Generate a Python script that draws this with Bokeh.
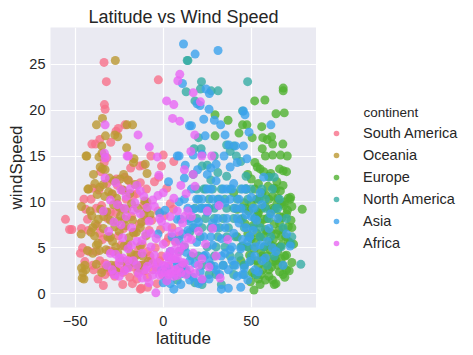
from bokeh.plotting import figure
from bokeh.layouts import row
from bokeh.models import Range1d, FixedTicker, Legend, LegendItem, Label
from bokeh.embed import file_html
from bokeh.resources import INLINE

continents = ["South America", "Oceania", "Europe", "North America", "Asia", "Africa"]
colors = ["#f77189", "#bb9832", "#50b131", "#36ada4", "#3ba3ec", "#e866f4"]
legend_title = "continent"

sa_lat = [-33.6, -32.3, -33.4, -33.0, -55.5, -53.2, -51.9, -2.8, -26.8, -25.5, -38.5, -29.8, -13.4, 0.0, -1.0, 5.8, 6.0, -21.7, -21.9, -33.5, -32.0, -35.5, -36.0, -40.5,
          -46.4, -45.8, -44.0, -43.0, -42.5, -41.0, -40.0, -39.5, -38.0, -37.5, -36.5, -35.0, -34.5, -33.0, -32.0, -31.5, -30.5, -30.0, -29.0, -28.5, -27.5, -27.0, -26.0, -25.5, -24.5, -24.0,
          -23.0, -22.5, -21.5, -21.0, -20.5, -19.5, -19.0, -18.0, -17.5, -16.5, -16.0, -15.0, -14.5, -13.5, -12.5, -12.0, -11.0, -10.5, -9.5, -9.0, -8.0, -7.5, -6.5, -6.0, -5.0, -4.5, -3.5,
          -3.0, -2.0, -1.5, -0.5, 0.5, 1.5, 2.0, 3.0, 4.0, 5.0, 7.0, 8.0, 9.0, -44.5, -47.0, -37.0, -34.0, -28.0, -26.5, -18.5, -11.5, -7.0, -2.5, -14.0, -24.0, -31.0, -36.0, -8.9, -13.0,
          -35.0, -33.0, -31.0, -29.0, -27.0, -25.0, -23.0, -21.0, -19.0, -17.0, -15.0, -13.0, -11.0, -9.0, -7.0, -4.0, -1.0, 1.0, 3.0, -38.0, -40.0, -45.0, -42.0, -36.0, -30.0,
          -26.0, -23.0, -17.0, -13.0, -10.0]
sa_wind = [25.2, 23.1, 20.6, 20.1, 8.1, 7.0, 7.0, 23.3, 17.7, 18.0, 16.3, 16.5, 13.9, 15.1, 13.9, 9.2, 14.4, 18.4, 12.7, 14.3, 14.8, 13.3, 16.8, 16.3,
           7.1, 5.0, 9.2, 8.1, 6.9, 10.3, 3.1, 2.6, 4.6, 7.4, 11.3, 9.6, 5.9, 3.3, 12.0, 8.2, 6.1, 2.4, 10.8, 4.6, 1.9, 8.8, 11.8, 6.3, 3.6, 9.3,
           1.0, 7.1, 2.7, 10.3, 5.1, 12.3, 3.8, 8.4, 1.1, 6.6, 4.2, 10.9, 2.3, 7.6, 0.6, 5.4, 9.7, 3.2, 11.4, 1.8, 6.9, 4.1, 8.0, 2.6, 12.2, 5.0, 1.1,
           9.0, 3.6, 7.0, 2.1, 8.5, 5.6, 11.5, 3.0, 9.8, 7.2, 5.7, 2.4, 6.3, 3.5, 4.4, 1.6, 0.9, 2.8, 12.5, 13.7, 14.0, 15.0, 12.7, 4.8, 5.3, 4.7, 6.6, 0.7, 0.5,
           2.6, 2.1, 2.9, 2.4, 3.1, 2.6, 2.3, 3.4, 1.8, 2.9, 1.6, 3.1, 2.5, 4.6, 3.6, 2.9, 4.1, 2.6, 6.1, 9.3, 11.5, 10.3, 4.6, 3.6, 8.9,
           9.8, 11.3, 10.7, 12.1, 8.0]

oc_lat = [-27.2, -34.5, -37.9, -27.5, -25.8, -20.6, -17.4, -43.8, -43.4, -34.9, -34.8, -16.6, -16.9, -20.8, -10.2, -9.2, -39.6, -42.8, -42.4, -46.4, -46.6, -46.4, -46.0, -45.6, -9.4, -9.2,
          -35.8, -36.5, -32.8, -34.5, -33.0, -28.0, -24.5,
          -44.5, -41.5, -40.5, -39.0, -38.5, -37.5, -37.0, -36.2, -35.5, -34.0, -33.2, -32.5, -31.5, -31.0, -30.0, -29.5, -28.8, -28.2, -27.5, -27.0, -26.5, -25.8, -25.0, -24.2, -23.5, -23.0,
          -22.3, -21.5, -20.8, -20.2, -19.5, -19.0, -18.3, -17.5, -16.8, -16.0, -15.3, -14.5, -13.8, -13.0, -12.3, -11.5, -10.5, -9.8, -8.5, -7.5, -35.0, -32.0, -41.0, -43.0, -38.8, -30.5,
          -22.5, -20.0, -26.0, -17.0, -33.8, -36.8,
          -45.0, -44.0, -40.0, -38.0, -36.0, -34.0, -32.0, -29.0, -27.0, -25.0, -22.0, -20.0, -18.0, -15.0, -13.0, -12.0, -11.0, -40.0, -38.0, -30.0]
oc_wind = [25.4, 19.1, 18.4, 17.3, 17.1, 18.4, 18.4, 15.0, 15.0, 16.1, 15.3, 14.7, 14.3, 15.9, 14.1, 13.1, 13.0, 11.4, 11.4, 9.5, 6.5, 2.8, 1.7, 2.3, 9.2, 10.0,
           13.8, 14.9, 17.2, 13.6, 13.5, 12.3, 12.5,
           3.1, 9.0, 8.5, 6.3, 7.6, 10.8, 5.5, 4.7, 9.2, 7.1, 10.6, 4.8, 6.2, 11.1, 8.0, 3.1, 5.7, 9.7, 7.3, 2.5, 10.4, 4.5, 6.8, 8.5, 3.6, 11.3,
           5.2, 7.4, 9.2, 2.9, 6.1, 10.9, 4.4, 8.0, 3.4, 11.9, 6.7, 9.3, 2.8, 5.2, 7.8, 4.1, 10.1, 6.3, 3.5, 8.6, 2.3, 2.9, 6.7, 4.7, 12.0, 12.6,
           13.0, 12.4, 7.9, 6.7, 8.4, 8.1,
           1.6, 2.6, 4.4, 3.2, 11.6, 11.9, 8.9, 10.9, 5.1, 9.4, 8.1, 5.3, 9.8, 4.2, 7.2, 3.1, 8.6, 7.2, 5.3, 6.2]

eu_lat = [68.1, 68.1, 51.9, 57.7, 68.7, 64.0, 29.4, 36.8, 29.4, 55.9, 61.5, 62.1, 67.9, 70.4, 66.6, 62.1, 56.2, 53.4, 55.0, 68.1, 78.9, 72.3, 51.5, 47.5, 45.0, 50.5, 59.0, 43.0, 56.5, 58.0, 70.0, 52.0, 60.0, 64.5,
          40.0, 42.0, 44.0, 45.0, 46.0, 47.0, 48.0, 49.0, 50.0, 50.5, 51.0, 52.0, 52.5, 53.0, 53.5, 54.0, 54.5, 55.0, 55.5, 56.0, 56.5, 57.0, 57.5, 58.0, 58.5, 59.0, 59.5, 60.0, 60.5, 61.0,
          61.5, 62.0, 62.5, 63.0, 63.5, 64.0, 64.5, 65.0, 65.5, 66.0, 66.5, 67.0, 67.5, 68.0, 68.5, 69.0, 69.5, 70.0, 70.5, 71.0, 71.5, 72.0, 72.5, 73.0, 74.0, 46.5, 48.5, 49.5, 51.5, 53.0,
          54.0, 55.5, 57.0, 58.0, 60.0, 61.0, 62.5, 63.0, 64.0, 65.0, 66.0, 67.0, 68.0, 69.0, 70.0, 71.0, 73.0, 66.0, 61.0, 57.0, 63.0, 54.0, 48.0, 50.0, 46.0,
          50.0, 52.0, 55.0, 57.0, 59.0, 61.0, 63.0, 65.0, 67.0, 69.0, 71.0, 73.0, 60.0, 62.0, 64.0, 66.0, 68.0, 58.0, 56.0, 54.0, 52.0, 50.0, 48.0, 44.0, 42.0, 70.0, 66.0, 62.0,
          58.0, 56.0, 53.0, 47.0, 64.0, 68.0, 72.0, 60.0, 55.0, 59.0, 63.0, 67.0]
eu_wind = [22.4, 22.1, 21.0, 21.1, 19.7, 19.6, 19.5, 18.9, 17.2, 18.2, 17.1, 16.3, 16.3, 15.0, 15.1, 15.1, 15.8, 13.8, 13.6, 13.4, 9.2, 10.5, 0.4, 18.4, 18.4, 17.0, 16.8, 17.5, 17.0, 15.0, 13.3, 14.3, 12.8, 12.2,
           11.0, 9.2, 8.1, 5.2, 3.1, 11.4, 6.5, 4.2, 9.8, 2.3, 7.4, 11.4, 5.6, 3.6, 8.6, 1.6, 10.3, 6.2, 4.5, 11.0, 2.6, 8.1, 5.1, 9.5, 3.3, 6.8, 11.7, 1.9, 4.8, 8.9,
           2.9, 10.6, 5.9, 7.6, 3.9, 1.1, 9.8, 4.6, 6.9, 2.4, 11.2, 5.3, 8.3, 3.1, 9.6, 1.8, 6.2, 4.2, 9.1, 7.3, 2.5, 5.5, 8.0, 3.4, 5.4, 7.6, 9.0, 1.3, 4.9, 6.6,
           8.8, 2.1, 3.9, 7.0, 10.3, 5.3, 3.5, 9.2, 6.5, 10.4, 8.4, 3.8, 7.0, 10.0, 2.6, 10.4, 9.5, 13.6, 13.1, 13.3, 11.5, 12.0, 13.0, 12.5, 9.9,
           6.0, 8.2, 7.7, 6.2, 4.1, 6.7, 5.1, 3.1, 6.2, 4.1, 5.7, 7.2, 2.6, 1.5, 3.6, 5.1, 2.1, 1.5, 4.1, 3.1, 2.1, 3.6, 5.1, 3.6, 6.2, 8.7, 7.7, 9.3,
           10.8, 9.3, 10.3, 9.3, 11.4, 11.8, 10.3, 5.7, 1.0, 8.2, 1.0, 9.8]

na_lat = [13.6, 14.0, 13.0, 21.7, 47.9, 21.1, 27.2, 31.1, 18.0, 17.5, 20.0, 21.5, 22.0, 29.0, 25.0, 36.0, 38.0, 41.5, 44.0, 47.0, 78.1, 72.5, 63.0, 60.0, 45.0, 40.0,
          19.0, 23.0, 28.0, 33.0, 38.0, 44.0, 50.0, 56.0, 62.0, 20.0, 26.0, 31.0, 42.0, 48.0, 54.0, 66.0, 18.0, 22.0, 29.0, 36.0, 45.0, 58.0, 64.0, 15.0, 24.0, 34.0, 40.0, 52.0, 60.0,
          17.0, 27.0, 37.0, 46.0, 55.0, 68.0, 21.0, 31.0, 41.0, 49.0, 61.0, 12.0, 25.0, 35.0, 44.0, 57.0, 67.0, 16.0, 29.0, 38.0, 50.0, 63.0, 11.0, 22.0, 34.0, 46.0, 59.0, 14.0, 26.0,
          40.0, 53.0, 18.0, 33.0, 8.0, 17.0, 31.0, 27.0, 36.0,
          24.0, 47.0, 35.0, 58.0, 26.0, 40.0, 52.0, 19.0, 29.0, 45.0, 22.0, 32.0, 51.0, 36.0, 55.0, 30.0, 48.0, 20.0, 43.0, 27.0, 40.0, 30.0, 46.0, 22.0, 12.0, 9.0, 15.0, 65.0, 70.0, 73.0]
na_wind = [25.4, 25.4, 22.0, 23.1, 23.1, 22.3, 22.1, 22.1, 21.0, 15.8, 17.0, 15.8, 13.9, 15.0, 14.0, 16.2, 15.5, 15.0, 14.4, 12.8, 3.2, 5.4, 12.7, 12.7, 19.9, 16.1,
           11.4, 11.4, 11.4, 11.4, 11.4, 11.4, 11.4, 11.4, 11.4, 10.3, 10.3, 10.3, 10.3, 10.3, 10.3, 10.3, 9.3, 9.3, 9.3, 9.3, 9.3, 9.3, 9.3, 8.2, 8.2, 8.2, 8.2, 8.2, 8.2,
           7.2, 7.2, 7.2, 7.2, 7.2, 7.2, 6.2, 6.2, 6.2, 6.2, 6.2, 5.1, 5.1, 5.1, 5.1, 5.1, 5.1, 4.1, 4.1, 4.1, 4.1, 4.1, 3.1, 3.1, 3.1, 3.1, 3.1, 2.1, 2.1,
           2.1, 2.1, 1.2, 1.0, 1.5, 13.0, 13.2, 12.4, 12.8,
           11.4, 11.4, 10.3, 10.3, 9.3, 9.3, 9.3, 8.2, 8.2, 8.2, 7.2, 7.2, 7.2, 6.2, 6.2, 5.1, 5.1, 4.1, 4.1, 3.1, 3.1, 2.1, 2.1, 1.0, 2.6, 4.6, 6.7, 9.3, 8.2, 6.2]

as_lat = [11.5, 18.1, 31.1, 10.9, 24.3, 26.2, 19.2, 20.9, 26.0, 45.5, 46.4, 14.9, 32.6, 35.1, 48.7, 45.5, 23.8, 37.2, 61.1, 16.0, 17.0, 9.0, 8.0, 22.0, 27.0, 30.0, 41.0, 34.5, 42.0, 47.5, 57.0,
          23.0, 29.0, 12.5, 19.5, 25.0, 38.0, -2.0, -3.0,
          0.0, 2.0, 4.0, 6.0, 7.0, 9.0, 10.0, 11.0, 12.0, 13.0, 14.0, 15.0, 16.0, 17.0, 18.0, 19.0, 20.0, 21.0, 22.0, 23.0, 24.0, 25.0, 26.0, 27.0, 28.0, 29.0, 30.0, 31.0, 32.0, 33.0,
          34.0, 35.0, 36.0, 37.0, 38.0, 39.0, 40.0, 41.0, 42.0, 43.0, 44.0, 45.0, 46.0, 47.0, 48.0, 49.0, 50.0, 51.0, 52.0, 53.0, 54.0, 55.0, 56.0, 58.0, 60.0, 62.0, 65.0, 70.0,
          25.0, 30.0, 35.0, 40.0, 44.0, 33.0, 20.0, 15.0, 8.0, 5.0, 3.0, -1.0, 1.0, 3.0, 12.0, 45.0, 50.0, 55.0, 38.0,
          21.0, 24.0, 28.0, 32.0, 36.0, 39.0, 42.0, 44.0, 47.0, 49.0, 52.0, 35.0, 31.0, 27.0, 23.0, 18.0, 14.0, 11.0, 8.0, 6.0, 4.0, 2.0, 10.0, 13.0, 17.0, 22.0, 26.0, 30.0, 34.0, 37.0,
          41.0, 45.0, 48.0, 52.0, 56.0, 59.0, 61.0, 64.0, 68.0, 72.0, 33.0, 28.0, 39.0, 43.0, 47.0, 51.0, 25.0, 19.0, 15.0, 9.0]
as_wind = [27.2, 26.1, 26.5, 22.9, 22.3, 21.8, 20.7, 20.5, 20.1, 19.9, 19.5, 18.3, 18.4, 17.3, 17.6, 16.1, 17.2, 16.2, 18.4, 18.3, 15.1, 15.0, 15.0, 15.2, 13.7, 14.1, 16.1, 15.0, 14.3, 14.7, 12.7,
           19.0, 18.9, 14.0, 13.5, 13.0, 13.8, 8.8, 6.5,
           1.2, 2.8, 1.1, 0.5, 3.6, 5.8, 8.1, 2.2, 10.3, 4.5, 6.9, 1.5, 11.4, 9.2, 3.3, 5.6, 7.8, 2.4, 10.3, 6.2, 4.2, 8.9, 1.6, 11.4, 5.3, 3.0, 7.2, 9.6, 2.1, 6.0,
           11.4, 4.4, 8.2, 0.6, 10.3, 3.6, 6.6, 9.3, 1.9, 7.7, 4.9, 11.4, 2.8, 8.6, 5.7, 3.5, 10.5, 6.9, 4.1, 8.0, 2.4, 5.3, 9.7, 3.9, 7.1, 5.0, 8.2, 6.5,
           9.3, 12.3, 9.9, 12.0, 0.7, 0.5, 1.1, 7.9, 8.1, 6.2, 4.0, 2.6, 9.1, 12.2, 12.6, 5.9, 8.4, 11.0, 4.8,
           9.3, 9.3, 10.3, 10.3, 11.4, 11.4, 8.2, 9.3, 7.2, 6.2, 5.1, 7.2, 8.2, 6.2, 4.1, 7.2, 9.3, 6.5, 3.1, 2.1, 4.6, 1.5, 1.0, 2.6, 1.8, 1.5, 3.6, 2.6, 3.1, 2.6,
           3.1, 2.1, 1.5, 2.6, 3.6, 5.7, 8.7, 4.6, 3.1, 5.2, 4.1, 7.7, 5.1, 10.3, 11.4, 9.3, 11.4, 10.3, 3.6, 10.0]

af_lat = [9.4, 8.3, 1.9, 6.0, 17.0, 21.1, 5.3, 9.4, 17.9, -14.3, -19.8, -20.5, -33.0, -33.4, -33.0, -7.9, -3.4, 15.7, 21.9, 27.5, -4.2, 31.7, 32.3, 36.6, -33.0, -2.5, 17.0, 12.0,
          -34.0, -32.0, -31.0, -30.0, -29.0, -28.0, -27.0, -26.0, -25.0, -24.0, -23.0, -22.0, -21.0, -20.0, -19.0, -18.0, -17.0, -16.0, -15.0, -14.0, -13.0, -12.0, -11.0, -10.0, -9.0,
          -8.0, -7.0, -6.0, -5.0, -4.0, -3.0, -2.0, -1.0, 0.0, 1.0, 2.0, 3.0, 4.0, 5.0, 6.0, 7.0, 8.0, 9.0, 10.0, 11.0, 12.0, 13.0, 14.0, 15.0, 16.0, 17.0, 18.0, 20.0, 22.0, 24.0,
          26.0, 28.0, 30.0, -25.0, -20.0, -12.0, 2.0, 5.0, 7.0, -5.0, -18.0, -9.0, -15.0, -27.0, -22.0, 0.0, 10.0, -3.0, 14.0, -23.0, 3.0, 8.0, -8.0,
          -6.0, -4.0, -2.0, 0.0, 1.0, 2.0, 3.0, 4.0, 5.0, 6.0, 7.0, 8.0, 9.0, 10.0, 11.0, 12.0, 13.0, -10.0, -15.0, -20.0, -25.0, -28.0, -30.0, -12.0, -7.0, -1.0, 4.0, 9.0,
          16.0, 20.0, -17.0, -21.0, -24.0, -13.0, -6.0, 6.0, 12.0, 25.0, 22.0, 18.0]
af_wind = [23.9, 23.2, 21.0, 20.6, 21.9, 20.9, 19.1, 18.8, 17.3, 17.3, 15.0, 15.0, 18.4, 15.3, 14.8, 16.0, 14.9, 15.5, 15.0, 15.0, 0.1, 9.6, 1.7, 5.9, 12.6, 12.9, 13.0, 13.5,
           9.0, 3.1, 6.8, 10.2, 2.6, 7.8, 4.3, 9.7, 3.3, 11.3, 6.1, 2.5, 8.4, 4.9, 11.4, 7.2, 3.6, 9.9, 5.7, 2.2, 8.7, 4.4, 10.6, 6.5, 3.0,
           7.9, 5.1, 2.0, 9.5, 6.0, 3.4, 8.2, 2.3, 5.4, 3.0, 7.3, 2.1, 4.6, 6.6, 1.9, 3.8, 9.0, 2.8, 5.0, 7.7, 3.3, 10.9, 6.1, 2.6, 8.4, 4.4, 11.7, 6.8, 3.8, 5.4,
           2.9, 7.1, 4.1, 1.9, 2.8, 1.7, 1.4, 2.5, 5.6, 4.2, 5.3, 9.4, 11.8, 12.1, 9.3, 11.0, 11.8, 10.7, 9.0, 3.9, 4.0, 2.0, 1.2,
           3.3, 2.6, 2.0, 3.1, 2.3, 4.1, 3.3, 2.2, 3.8, 4.7, 2.6, 3.9, 4.6, 2.3, 3.4, 5.3, 2.1, 2.6, 3.1, 3.6, 3.9, 2.1, 4.4, 5.8, 6.6, 7.9, 8.4, 6.8,
           5.9, 3.1, 9.1, 10.6, 7.5, 11.2, 10.2, 10.4, 8.4, 9.0, 1.6, 2.2]

x_ticks = [-50, 0, 50]
x_tick_labels = {-50: "\u221250", 0: "0", 50: "50"}
y_ticks = [0, 5, 10, 15, 20, 25]

FONT = "Liberation Sans"
TXT = "#262626"

p = figure(width=316, height=355, output_backend="svg", toolbar_location=None,
           x_range=Range1d(-64, 87), y_range=Range1d(-1.5, 29),
           min_border_left=50, min_border_right=0, min_border_top=27, min_border_bottom=48,
           title="Latitude vs Wind Speed")
p.title.text_font = FONT
p.title.text_font_size = "18px"
p.title.text_font_style = "normal"
p.title.text_color = TXT
p.title.align = "center"
p.title.standoff = 2

p.background_fill_color = "#EAEAF2"
p.border_fill_color = "white"
p.outline_line_color = None
for g in (p.xgrid, p.ygrid):
    g.grid_line_color = "white"
    g.grid_line_width = 1.2
p.xgrid.ticker = FixedTicker(ticks=x_ticks)
p.ygrid.ticker = FixedTicker(ticks=y_ticks)

for ax in (p.xaxis, p.yaxis):
    ax.axis_line_color = None
    ax.major_tick_line_color = None
    ax.minor_tick_line_color = None
    ax.major_tick_out = 0
    ax.major_tick_in = 0
    ax.minor_tick_out = 0
    ax.minor_tick_in = 0
    ax.major_label_text_font = FONT
    ax.major_label_text_font_size = "14.5px"
    ax.major_label_text_color = TXT
    ax.axis_label_text_font = FONT
    ax.axis_label_text_font_size = "17px"
    ax.axis_label_text_font_style = "normal"
    ax.axis_label_text_color = TXT
p.xaxis.ticker = FixedTicker(ticks=x_ticks)
p.xaxis.major_label_overrides = x_tick_labels
p.yaxis.ticker = FixedTicker(ticks=y_ticks)
p.xaxis.axis_label = "latitude"
p.yaxis.axis_label = "windSpeed"
p.xaxis.major_label_standoff = 8
p.xaxis.axis_label_standoff = 0
p.yaxis.major_label_standoff = 5
p.yaxis.axis_label_standoff = 0

series = [(sa_lat, sa_wind), (oc_lat, oc_wind), (eu_lat, eu_wind),
          (na_lat, na_wind), (as_lat, as_wind), (af_lat, af_wind)]
for col, (xs, ys) in zip(colors, series):
    p.scatter(x=xs, y=ys, size=9, fill_color=col, line_color=None, fill_alpha=0.8)

# legend panel: a separate figure to the right; its ranges lie far from the data,
# so the series drawn there only provide the legend glyphs (nothing shows in the panel)
lg = figure(width=157, height=355, output_backend="svg", toolbar_location=None,
            x_range=Range1d(200, 357), y_range=Range1d(0, 280),
            x_axis_location=None, y_axis_location=None,
            min_border=0, min_border_left=0, min_border_right=0, min_border_top=27, min_border_bottom=48)
lg.xgrid.visible = False
lg.ygrid.visible = False
lg.outline_line_color = None
lg.background_fill_color = "white"
lg.border_fill_color = "white"

items = []
for name, col, (xs, ys) in zip(continents, colors, series):
    r = lg.scatter(x=xs, y=ys, size=7, fill_color=col, line_color=None, fill_alpha=0.8)
    items.append(LegendItem(label=name, renderers=[r]))

legend = Legend(items=items, location=(13, 55), orientation="vertical",
                glyph_width=14, glyph_height=18, label_height=18, spacing=4,
                label_standoff=20, padding=0, margin=0,
                border_line_color=None, background_fill_alpha=0,
                label_text_font=FONT, label_text_font_size="14.5px", label_text_color=TXT)
lg.add_layout(legend, "center")
lg.add_layout(Label(x=247, y=195, text=legend_title, text_font=FONT, text_font_size="13.5px",
                    text_color=TXT, text_baseline="middle", text_align="left"))

layout = row(p, lg, spacing=0)
open("out.html", "w").write(file_html(layout, INLINE))
